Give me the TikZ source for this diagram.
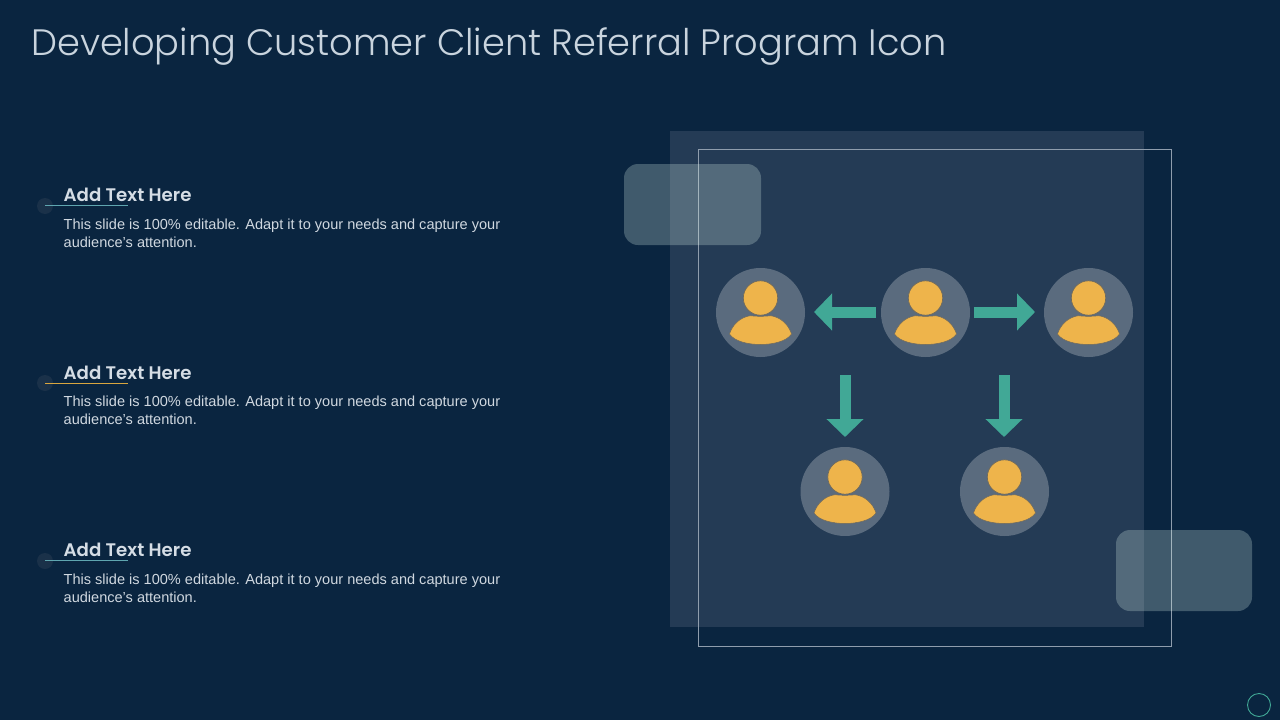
\documentclass[tikz,border=0pt]{standalone}
\usepackage{fontspec}
\setmainfont{Liberation Sans}
\newfontfamily\titlefont{Poppins}[UprightFont=* Light]
\newfontfamily\headfont{Poppins}[UprightFont=* SemiBold]
\usetikzlibrary{arrows.meta}
\definecolor{bg}{HTML}{0A2540}
\definecolor{panelc}{HTML}{243B55}
\definecolor{framec}{HTML}{8F9DAD}
\definecolor{avatar}{HTML}{5A6B7E}
\definecolor{skin}{HTML}{EEB44B}
\definecolor{neck}{HTML}{6F6A5C}
\definecolor{teal}{HTML}{41A896}
\definecolor{rulec}{HTML}{5FA6B0}
\definecolor{softc}{HTML}{E2F9F0}
\definecolor{bodytext}{HTML}{D0D8E0}
\definecolor{headtext}{HTML}{D5DDE5}
\definecolor{titlec}{HTML}{C9D4DE}
\definecolor{dotc}{HTML}{1A3149}
\definecolor{goldrule}{HTML}{D9A63F}
\tikzset{
  x=1pt,y=-1pt,
  avatarnode/.style={circle,fill=avatar,minimum size=89pt,inner sep=0pt},
  softbox/.style={fill=softc,fill opacity=0.25,rounded corners=14pt},
  flow/.style={teal,line width=11pt,-{Triangle[length=18pt,width=36pt]}},
  heading/.style={anchor=base west,inner sep=0pt,text=headtext,font=\headfont\fontsize{18.2}{18}\selectfont},
  para/.style={anchor=north west,inner sep=0pt,text=bodytext,align=left,font=\fontsize{14.55}{18}\selectfont},
  dotnode/.style={circle,fill=dotc,minimum size=16pt,inner sep=0pt},
  rulebar/.style={line width=1pt},
  person/.pic={
    \fill[skin,draw=neck,line width=0.5pt] (-31,21.5) .. controls (-28,12) and (-20,4.5) .. (-10,3.2)
      .. controls (-5,4) and (5,4) .. (10,3.2)
      .. controls (20,4.5) and (28,12) .. (31,21.5)
      .. controls (26,29) and (12,32) .. (0,32)
      .. controls (-12,32) and (-26,29) .. (-31,21.5) -- cycle;
    \fill[skin,draw=neck,line width=0.7pt] (0,-14.5) circle (17.2);
  }
}
\begin{document}
\begin{tikzpicture}
\useasboundingbox (0,0) rectangle (1280,720);
\fill[bg] (0,0) rectangle (1280,720);
\node[anchor=base west,inner sep=0pt,text=titlec,font=\titlefont\fontsize{36.75}{38}\selectfont] (title) at (31,55) {Developing Customer Client Referral Program Icon};

% left column
\node[dotnode] (d1) at (45,206) {};
\node[dotnode] (d2) at (45,383) {};
\node[dotnode] (d3) at (45,561) {};
\draw[rulebar,draw=rulec] (45,205.5) -- (128,205.5);
\draw[rulebar,draw=goldrule] (45,383.5) -- (128,383.5);
\draw[rulebar,draw=rulec] (45,560.5) -- (128,560.5);
\node[heading] (h1) at (63.5,201) {Add Text Here};
\node[heading] (h2) at (63.5,379) {Add Text Here};
\node[heading] (h3) at (63.5,556) {Add Text Here};
\node[para] (p1) at (63.5,218.5) {This slide is 100\% editable. Adapt it to your needs and capture your\\audience's attention.};
\node[para] (p2) at (63.5,395.5) {This slide is 100\% editable. Adapt it to your needs and capture your\\audience's attention.};
\node[para] (p3) at (63.5,573.5) {This slide is 100\% editable. Adapt it to your needs and capture your\\audience's attention.};

% panel
\fill[panelc] (670,131) rectangle (1144,627);
\draw[framec,line width=0.7pt] (698.5,149.5) rectangle (1171.5,646.5);
\fill[softbox] (624,164) rectangle (761,245);
\fill[softbox] (1116,530) rectangle (1252,611);

% people
\node[avatarnode] (a) at (760.5,312.5) {};
\node[avatarnode] (b) at (925.5,312.5) {};
\node[avatarnode] (c) at (1088.5,312.5) {};
\node[avatarnode] (e) at (845,491.5) {};
\node[avatarnode] (f) at (1004.5,491.5) {};
\foreach \n in {a,b,c,e,f} \pic at (\n) {person};

% arrows
\coordinate (b1) at (876,312);
\coordinate (a1) at (814,312);
\coordinate (b2) at (974,312);
\coordinate (c1) at (1035,312);
\coordinate (e0) at (845,375);
\coordinate (e1) at (845,437);
\coordinate (f0) at (1004,375);
\coordinate (f1) at (1004,437);
\draw[flow] (b1) -- (a1);
\draw[flow] (b2) -- (c1);
\draw[flow] (e0) -- (e1);
\draw[flow] (f0) -- (f1);

% page mark
\node[circle,draw=teal,line width=0.9pt,minimum size=23pt,inner sep=0pt] (mark) at (1259,705) {};
\end{tikzpicture}
\end{document}
